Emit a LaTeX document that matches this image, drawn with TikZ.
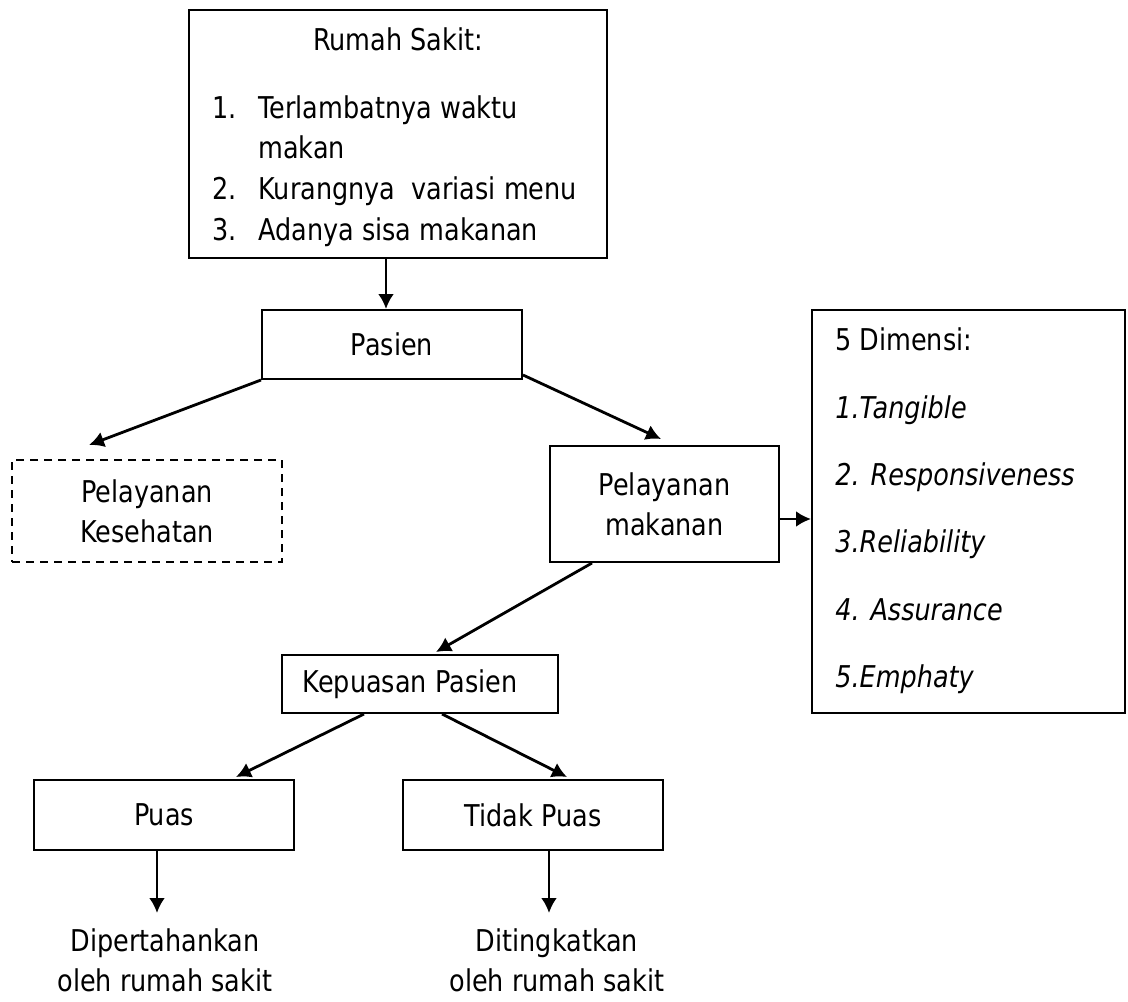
\documentclass[tikz,border=0pt]{standalone}
\usepackage{fontspec}
\setmainfont{DejaVu Sans}[FakeStretch=0.85]
\usetikzlibrary{arrows.meta,positioning}

\tikzset{
	kotak/.style={draw=black, line width=1pt, inner sep=0pt, align=center},
	garis putus/.style={dash pattern=on 4pt off 3pt},
	teks/.style={inner sep=0pt},
	panah/.style={-{Latex[length=7.5pt,width=8pt]}, line width=1.4pt},
}

\begin{document}
\begin{tikzpicture}[x=0.5pt, y=-0.5pt, font=\fontsize{15pt}{20pt}\selectfont]
	\useasboundingbox (0,0) rectangle (1128,1001);
	
	% kotak-kotak
	\node[kotak, minimum width=209pt, minimum height=124pt](rs) at (398,134) {};
	\node[kotak, minimum width=130pt, minimum height=34.5pt](pas) at (392,344.5) {Pasien};
	\node[kotak, garis putus, minimum width=135pt, minimum height=51pt](kes) at (147,511) {Pelayanan\\Kesehatan};
	\node[kotak, minimum width=114.5pt, minimum height=58pt](mak) at (664.5,504) {Pelayanan\\makanan};
	\node[kotak, minimum width=156.5pt, minimum height=201.5pt](dim) at (968.5,511.5) {};
	\node[kotak, minimum width=138pt, minimum height=29pt](kep) at (420,684) {Kepuasan Pasien\hspace*{10pt}};
	\node[kotak, minimum width=130pt, minimum height=35pt](puas) at (164,815) {Puas};
	\node[kotak, minimum width=130pt, minimum height=35pt](tdk) at (533,815) {Tidak Puas};
	
	% isi rumah sakit
	\node[teks, anchor=base](rs_judul) at (398,50) {Rumah Sakit:};
	\node[teks, anchor=base west](rs_n1) at (212,118) {1.};
	\node[teks, anchor=base west](rs_t1) at (258,118) {Terlambatnya waktu};
	\node[teks, anchor=base west](rs_t1b) at (258,158) {makan};
	\node[teks, anchor=base west](rs_n2) at (212,199) {2.};
	\node[teks, anchor=base west](rs_t2) at (258,199) {Kurangnya~ variasi menu};
	\node[teks, anchor=base west](rs_n3) at (212,240) {3.};
	\node[teks, anchor=base west](rs_t3) at (258,240) {Adanya sisa makanan};
	
	% isi 5 dimensi
	\node[teks, anchor=base west](dim_judul) at (835,350) {5 Dimensi:};
	\node[teks, anchor=base west](dim_1) at (835,418) {\itshape 1.Tangible};
	\node[teks, anchor=base west](dim_2) at (835,485) {\itshape 2. Responsiveness};
	\node[teks, anchor=base west](dim_3) at (835,552) {\itshape 3.Reliability};
	\node[teks, anchor=base west](dim_4) at (835,620) {\itshape 4. Assurance};
	\node[teks, anchor=base west](dim_5) at (835,687) {\itshape 5.Emphaty};
	
	% hasil
	\node[teks, align=center, anchor=north](dip) at (165,928) {Dipertahankan\\oleh rumah sakit};
	\node[teks, align=center, anchor=north](dit) at (557,928) {Ditingkatkan\\oleh rumah sakit};
	
	\coordinate (puas_out) at ([shift={(124,0)}]puas.south west);
	\coordinate (tdk_out) at ([shift={(147,0)}]tdk.south west);
	
	% panah
	\draw[panah] ([shift={(-12,0)}]rs.south) -- ([shift={(-6,0)}]pas.north);
	\draw[panah] (pas.south west) -- ([shift={(78,-14)}]kes.north west);
	\draw[panah] ([shift={(0,-5)}]pas.south east) -- ([shift={(112,-6)}]mak.north west);
	\draw[panah] ([shift={(0,15)}]mak.east) -- ([shift={(0,7.5)}]dim.west);
	\draw[panah] ([shift={(43,0)}]mak.south west) -- ([shift={(155,-2)}]kep.north west);
	\draw[panah] ([shift={(83,0)}]kep.south west) -- ([shift={(203,-2)}]puas.north west);
	\draw[panah] ([shift={(161,0)}]kep.south west) -- ([shift={(165,-2)}]tdk.north west);
	\draw[panah] (puas_out) -- ([yshift=7.5pt]puas_out |- dip.north);
	\draw[panah] (tdk_out) -- ([yshift=7.5pt]tdk_out |- dit.north);
\end{tikzpicture}
\end{document}
